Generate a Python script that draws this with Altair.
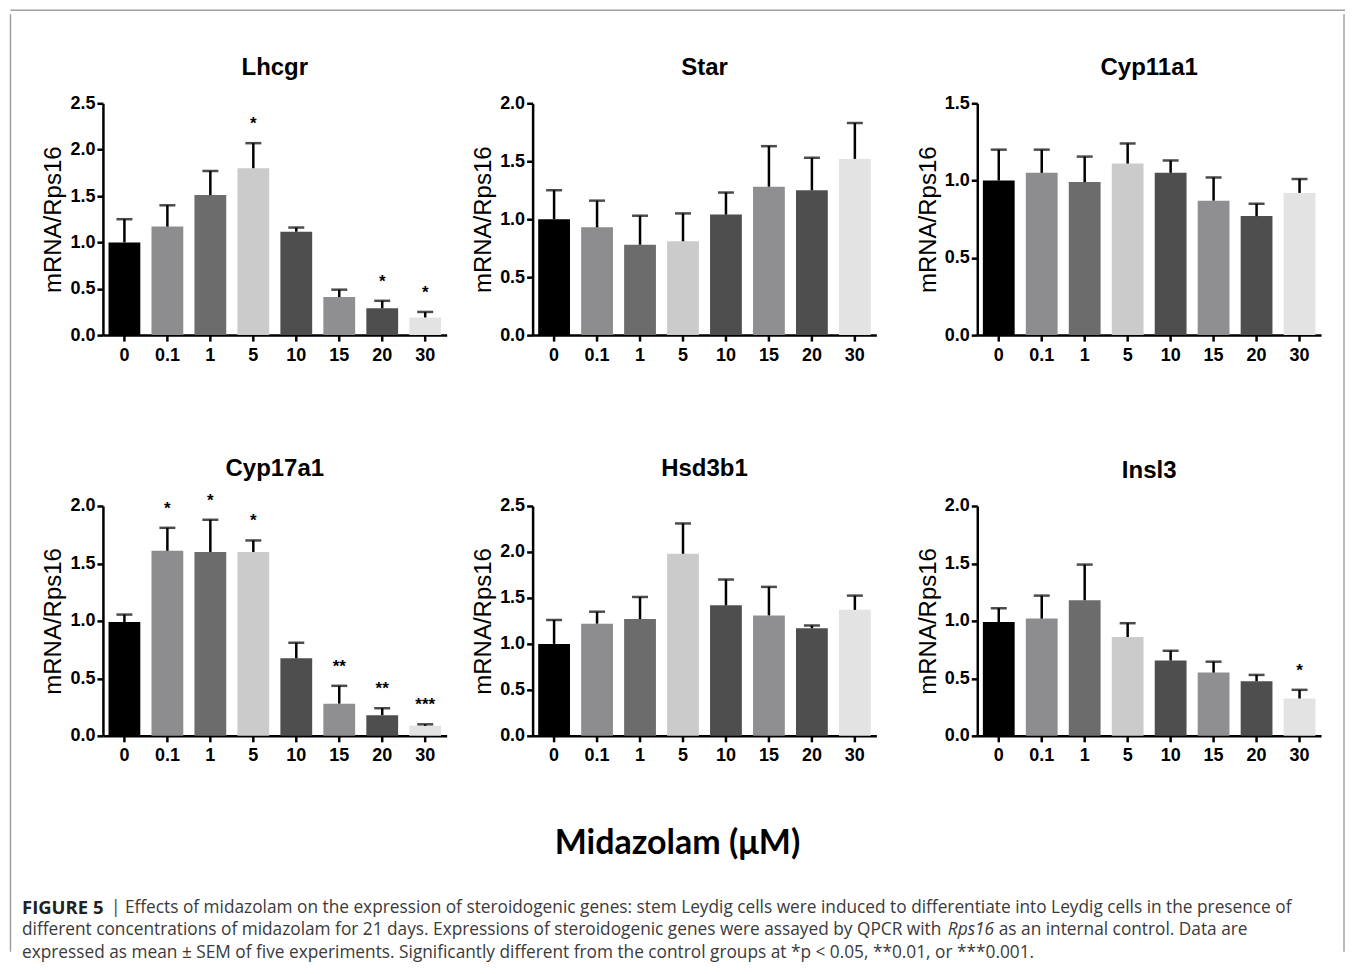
import altair as alt
import pandas as pd

doses = ["0", "0.1", "1", "5", "10", "15", "20", "30"]
bar_colors = ["#000000", "#8d8d8f", "#6c6c6c", "#cbcbcb", "#4e4e4e", "#8f8f91", "#4e4e4e", "#e3e3e3"]

lhcgr_mean = [1.00, 1.17, 1.51, 1.80, 1.115, 0.41, 0.29, 0.19]
lhcgr_upper = [1.25, 1.40, 1.77, 2.07, 1.16, 0.49, 0.37, 0.25]
lhcgr_star = ["", "", "", "*", "", "", "*", "*"]

star_mean = [1.00, 0.93, 0.78, 0.81, 1.04, 1.28, 1.25, 1.52]
star_upper = [1.25, 1.16, 1.03, 1.05, 1.23, 1.63, 1.53, 1.83]
star_star = ["", "", "", "", "", "", "", ""]

cyp11_mean = [1.00, 1.05, 0.99, 1.11, 1.05, 0.87, 0.77, 0.92]
cyp11_upper = [1.20, 1.20, 1.155, 1.24, 1.13, 1.02, 0.85, 1.01]
cyp11_star = ["", "", "", "", "", "", "", ""]

cyp17_mean = [0.99, 1.61, 1.60, 1.60, 0.675, 0.28, 0.18, 0.087]
cyp17_upper = [1.055, 1.81, 1.88, 1.70, 0.81, 0.435, 0.24, 0.10]
cyp17_star = ["", "*", "*", "*", "", "**", "**", "***"]

hsd_mean = [1.00, 1.22, 1.27, 1.98, 1.42, 1.31, 1.17, 1.37]
hsd_upper = [1.26, 1.35, 1.51, 2.31, 1.70, 1.62, 1.20, 1.525]
hsd_star = ["", "", "", "", "", "", "", ""]

insl_mean = [0.99, 1.02, 1.18, 0.86, 0.655, 0.55, 0.475, 0.325]
insl_upper = [1.11, 1.22, 1.49, 0.98, 0.74, 0.645, 0.53, 0.40]
insl_star = ["", "", "", "", "", "", "", "*"]

caption_l1_bold = "FIGURE 5"
caption_l1 = "| Effects of midazolam on the expression of steroidogenic genes: stem Leydig cells were induced to differentiate into Leydig cells in the presence of"
caption_l2a = "different concentrations of midazolam for 21 days. Expressions of steroidogenic genes were assayed by QPCR with"
caption_l2b = "Rps16"
caption_l2c = "as an internal control. Data are"
caption_l3 = "expressed as mean \u00b1 SEM of five experiments. Significantly different from the control groups at *p < 0.05, **0.01, or ***0.001."
xlabel = "Midazolam (\u03bcM)"

FONT = "Liberation Sans"
CFONT = "Open Sans"
BORDER = "#a0a0a0"
AX = dict(domainColor="black", domainWidth=2.5, tickColor="black", tickWidth=2.5, tickSize=6,
          labelFont=FONT, labelFontWeight="bold", labelFontSize=18, labelColor="black", grid=False)


def panel(name, means, uppers, stars, ymax, h, toff):
    df = pd.DataFrame({"dose": doses, "mean": means, "upper": uppers, "star": stars})
    base = alt.Chart(df)
    ticks = [i * 0.5 for i in range(int(round(ymax / 0.5)) + 1)]
    xenc = alt.X("dose:N", sort=doses,
                 scale=alt.Scale(paddingInner=0.26, paddingOuter=0.13),
                 axis=alt.Axis(title=None, labelAngle=0, labelPadding=5, **AX))
    xs = alt.X("dose:N", sort=doses)
    yenc = alt.Y("mean:Q", scale=alt.Scale(domain=[0, ymax], nice=False),
                 axis=alt.Axis(title="mRNA/Rps16", values=ticks, format=".1f",
                               titleFont=FONT, titleFontSize=24, titleFontWeight="normal",
                               titleColor="black", titlePadding=4, labelPadding=2, **AX))
    bars = base.mark_bar().encode(
        x=xenc, y=yenc,
        color=alt.Color("dose:N", scale=alt.Scale(domain=doses, range=bar_colors), legend=None))
    stem = base.mark_rule(color="black", strokeWidth=2.5).encode(x=xs, y="mean:Q", y2="upper:Q")
    cap = base.mark_tick(color="black", thickness=2.5, size=16).encode(x=xs, y="upper:Q")
    txt = base.mark_text(font=FONT, fontSize=17, fontWeight="bold", color="black",
                         baseline="alphabetic", dy=-14).encode(x=xs, y="upper:Q", text="star:N")
    return alt.layer(bars, stem, cap, txt).properties(
        width=344, height=h,
        title=alt.Title(name, font=FONT, fontSize=24, fontWeight="bold", color="black",
                        anchor="middle", frame="group", offset=toff))


row1 = alt.hconcat(
    alt.hconcat(panel("Lhcgr", lhcgr_mean, lhcgr_upper, lhcgr_star, 2.5, 232, 14),
                panel("Star", star_mean, star_upper, star_star, 2.0, 232, 14), spacing=23),
    panel("Cyp11a1", cyp11_mean, cyp11_upper, cyp11_star, 1.5, 232, 14), spacing=38)
row2 = alt.hconcat(
    alt.hconcat(panel("Cyp17a1", cyp17_mean, cyp17_upper, cyp17_star, 2.0, 230, 11),
                panel("Hsd3b1", hsd_mean, hsd_upper, hsd_star, 2.5, 230, 14), spacing=23),
    panel("Insl3", insl_mean, insl_upper, insl_star, 2.0, 230, 14), spacing=38)
rows = alt.vconcat(row1, row2, spacing=91)

one = pd.DataFrame({"a": [0]})
OX = 104  # page x of bottom chart origin (aligned with first plot's origin)
CS = 17.3


def ctext(s, px, py, weight="normal", style="normal", size=CS, color="#3a3a3a", align="left", font=CFONT):
    return alt.Chart(one).mark_text(text=s, font=font, fontSize=size, fontWeight=weight, fontStyle=style,
                                    color=color, align=align, baseline="middle").encode(
        x=alt.value(px - OX), y=alt.value(py))


bottom = alt.layer(
    ctext(xlabel, 679, 77.5, weight="bold", size=34, color="black", align="center", font="Lato"),
    ctext(caption_l1_bold, 23, 141, weight="bold", size=18.5, color="#222222"),
    ctext(caption_l1, 112, 141),
    ctext(caption_l2a, 23, 163.5),
    ctext(caption_l2b, 949.5, 163.5, style="italic"),
    ctext(caption_l2c, 1000.5, 163.5),
    ctext(caption_l3, 23, 186),
).properties(width=1210, height=188)

mainV = alt.vconcat(rows, bottom, spacing=0)

G = 89
HM = 849
left_strip = alt.Chart(one).mark_rule(color=BORDER, strokeWidth=1.5).encode(
    x=alt.value(1.5), y=alt.value(-G), y2=alt.value(HM)).properties(width=3, height=HM)
right_strip = alt.Chart(one).mark_rule(color=BORDER, strokeWidth=1.5).encode(
    x=alt.value(13), y=alt.value(-G), y2=alt.value(HM)).properties(width=14, height=HM)
hrow = alt.hconcat(left_strip, mainV, right_strip, spacing=8)

top_strip = alt.Chart(one).mark_rule(color=BORDER, strokeWidth=1.5).encode(
    x=alt.value(1.5), x2=alt.value(1337), y=alt.value(1)).properties(width=1337, height=1)

chart = alt.vconcat(top_strip, hrow, spacing=0).properties(padding=0).configure(
    background="white", view=alt.ViewConfig(stroke="transparent"))

chart.save("out.html", embed_options={"renderer": "svg", "actions": False})
